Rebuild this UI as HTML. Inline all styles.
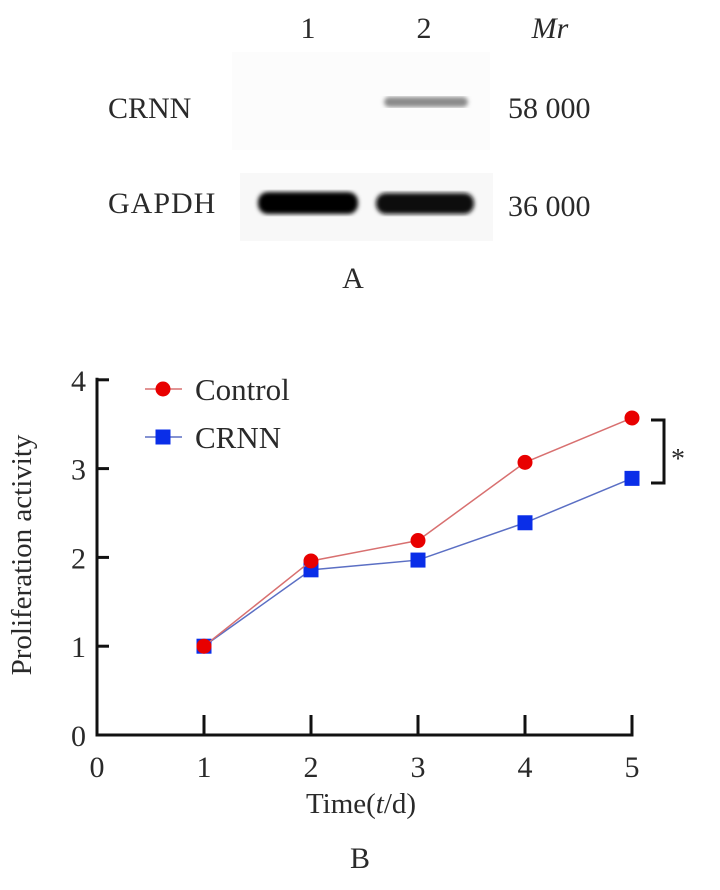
<!DOCTYPE html>
<html><head><meta charset="utf-8"><style>
body{margin:0;background:#fff;width:720px;height:885px;overflow:hidden;font-family:"Liberation Serif",serif}
svg text{font-family:"Liberation Serif",serif;fill:#2a2a2a}
</style></head><body>
<svg width="720" height="885">
<defs>
<filter id="blur1"><feGaussianBlur stdDeviation="2"/></filter>
</defs>
<g>
<text x="308" y="38" font-size="30" text-anchor="middle">1</text>
<text x="424" y="38" font-size="30" text-anchor="middle">2</text>
<text x="550" y="38" font-size="30" font-style="italic" text-anchor="middle">Mr</text>
<rect x="232" y="52" width="258" height="98" fill="#fcfcfc"/>
<rect x="384" y="97" width="84" height="10" rx="5" fill="#8a8a8a" filter="url(#blur1)"/>
<rect x="240" y="173" width="253" height="68" fill="#f8f8f8"/>
<rect x="258" y="192" width="100" height="22" rx="10" fill="#000" filter="url(#blur1)"/>
<rect x="376" y="193" width="98" height="21" rx="10" fill="#080808" filter="url(#blur1)"/>
<text x="108" y="118" font-size="30">CRNN</text>
<text x="108" y="213" font-size="30" letter-spacing="1">GAPDH</text>
<text x="508" y="118" font-size="30">58 000</text>
<text x="508" y="216" font-size="30">36 000</text>
<text x="353" y="288" font-size="30" text-anchor="middle">A</text>
</g>
<g id="chart"></g>
<text x="360" y="868" font-size="30" text-anchor="middle">B</text>
</svg>
<script>
const days=[1,2,3,4,5];
const controlValues=[1.0,1.96,2.19,3.07,3.57];
const crnnValues=[1.0,1.86,1.97,2.39,2.89];
const xTicks=[0,1,2,3,4,5];
const yTicks=[0,1,2,3,4];
const NS="http://www.w3.org/2000/svg";
const g=document.getElementById('chart');
const X0=97,XU=107,Y0=735,YU=88.8;
function sx(v){return X0+v*XU;}
function sy(v){return Y0-v*YU;}
function mk(t,a,p){const e=document.createElementNS(NS,t);for(const k in a)e.setAttribute(k,a[k]);(p||g).appendChild(e);return e;}
let ya=mk('line',{x1:sx(0),y1:sy(4)-2,x2:sx(0),y2:Y0+1.5,stroke:'#111','stroke-width':3});


let xa=mk('line',{x1:sx(0)-1.5,y1:Y0,x2:sx(5)+1.5,y2:Y0,stroke:'#111','stroke-width':3});


yTicks.forEach(v=>{
 if(v>0){let t=mk('line',{x1:sx(0),y1:sy(v),x2:sx(0)+12,y2:sy(v),stroke:'#111','stroke-width':3});
 
 }
 let l=mk('text',{x:sx(0)-11,y:sy(v)+11,'font-size':30,'text-anchor':'end'});l.textContent=v;
 
 
});
xTicks.forEach(v=>{
 if(v>0){let t=mk('line',{x1:sx(v),y1:Y0,x2:sx(v),y2:Y0-20,stroke:'#111','stroke-width':3});
 
 }
 let l=mk('text',{x:sx(v),y:Y0+42,'font-size':30,'text-anchor':'middle'});l.textContent=v;
 
 
});
let xt=mk('text',{x:361,y:813,'font-size':29,'text-anchor':'middle'});
xt.innerHTML='Time(<tspan font-style="italic">t</tspan>/d)';


let yt=mk('text',{x:0,y:0,'font-size':29,'text-anchor':'middle',transform:'translate(31,555) rotate(-90)'});
yt.textContent='Proliferation activity';


function series(vals,color,shape,name){
 const pts=days.map((d,i)=>sx(d)+','+sy(vals[i])).join(' ');
 let pl=mk('polyline',{points:pts,fill:'none',stroke:color,'stroke-width':1.5});
 
 
 days.forEach((d,i)=>{
  let m;
  if(shape==='c')m=mk('circle',{cx:sx(d),cy:sy(vals[i]),r:7.5,fill:'#e80000'});
  else m=mk('rect',{x:sx(d)-7.5,y:sy(vals[i])-7.5,width:15,height:15,fill:'#0a2ee8'});
  
  
 });
}
series(crnnValues,'#5b6fc4','s','crnn');
series(controlValues,'#d87070','c','control');
let l1=mk('line',{x1:145,y1:389,x2:182,y2:389,stroke:'#d87070','stroke-width':1.5});


let c1=mk('circle',{cx:163,cy:389,r:7.5,fill:'#e80000'});


let t1=mk('text',{x:195,y:400,'font-size':31});t1.textContent='Control';


let l2=mk('line',{x1:145,y1:437,x2:182,y2:437,stroke:'#5b6fc4','stroke-width':1.5});


let r2=mk('rect',{x:155.5,y:429.5,width:15,height:15,fill:'#0a2ee8'});


let t2=mk('text',{x:195,y:448,'font-size':31});t2.textContent='CRNN';


let br=mk('polyline',{points:'651,420 664,420 664,483 651,483',fill:'none',stroke:'#111','stroke-width':3});


let st=mk('text',{x:671,y:468,'font-size':28});st.textContent='*';


</script>
</body></html>
